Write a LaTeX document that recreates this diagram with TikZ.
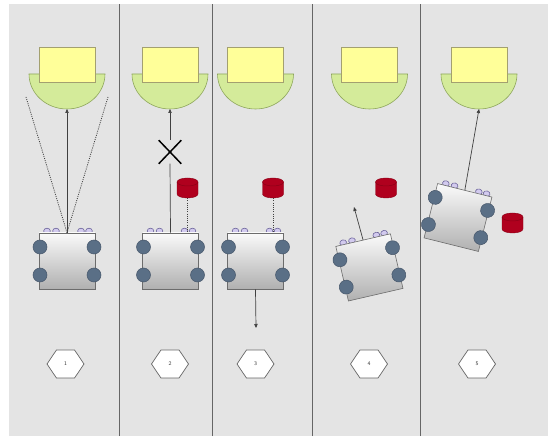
\documentclass[tikz,border=0pt]{standalone}
\usetikzlibrary{arrows.meta,shapes.geometric,shapes.misc,shapes.symbols}

\definecolor{panelgray}{HTML}{E4E4E4}
\definecolor{rulegray}{HTML}{666666}
\definecolor{goalyellow}{HTML}{FFFF99}
\definecolor{goaledge}{HTML}{A3A070}
\definecolor{dockgreen}{HTML}{D4EB9A}
\definecolor{dockedge}{HTML}{8EA65C}
\definecolor{wheelblue}{HTML}{5A6F86}
\definecolor{wheeledge}{HTML}{46566A}
\definecolor{sensorfill}{HTML}{D2CAEE}
\definecolor{sensoredge}{HTML}{6E669C}
\definecolor{obstred}{HTML}{B0001E}
\definecolor{obstedge}{HTML}{8A0016}

\tikzset{
  divider/.style={draw=rulegray, line width=1pt},
  goal/.style={rectangle, draw=goaledge, fill=goalyellow, line width=0.6pt,
    minimum width=56pt, minimum height=35pt, inner sep=0pt},
  dock/.style={draw=dockedge, fill=dockgreen, line width=0.6pt},
  robotbody/.style={rectangle, draw=gray!85!black, line width=0.6pt,
    top color=white!96!gray, bottom color=gray!62, minimum width=56pt,
    minimum height=56pt, inner sep=0pt},
  wheel/.style={draw=wheeledge, fill=wheelblue, line width=0.5pt},
  sensor/.style={draw=sensoredge, fill=sensorfill, line width=0.6pt},
  barrelbox/.style={rectangle, minimum width=21pt, minimum height=20pt, inner sep=0pt},
  barrelbody/.style={fill=obstred, draw=obstedge, line width=0.4pt},
  barreltop/.style={draw=obstedge, line width=0.5pt},
  marker/.style={signal, signal to=east and west, signal pointer angle=112,
    draw=gray!80!black, fill=white, line width=0.7pt, minimum width=37pt,
    minimum height=28pt, inner sep=0pt, text=black!80,
    font=\sffamily\fontsize{5.5}{6}\selectfont},
  plainline/.style={draw=black!75, line width=0.7pt},
  motion/.style={plainline, -{Triangle[length=4pt,width=3.4pt]}},
  sight/.style={draw=black!75, line width=0.8pt, dash pattern=on 1pt off 1.2pt},
  blocked/.style={cross out, draw=black, line width=1.5pt,
    minimum width=21pt, minimum height=22pt, inner sep=0pt},
  station/.pic={
    \draw[dock] (-38,0) arc[start angle=180, end angle=360,
      x radius=38pt, y radius=35pt] -- cycle;
    \coordinate (-base) at (0,-35);
    \node[goal] (-goal) at (0,9.5) {};
  },
  robot/.pic={
    \foreach \sx in {-20,-11,14,22}
      \draw[sensor] (\sx,30) ellipse [x radius=3.4pt, y radius=2.8pt];
    \node[robotbody] (-body) at (0,0) {};
    \foreach \wx/\wy in {-27/14, 27/14, -27/-14, 27/-14}
      \draw[wheel] (\wx,\wy) circle [radius=7pt];
  },
  barrel/.pic={
    \node[barrelbox] (-box) at (0,0) {};
    \draw[barrelbody] (-10.5,6) -- (-10.5,-6)
      arc[start angle=180, end angle=360, x radius=10.5pt, y radius=4pt]
      -- (10.5,6)
      arc[start angle=0, end angle=180, x radius=10.5pt, y radius=4pt] -- cycle;
    \draw[barreltop] (-10.5,6)
      arc[start angle=180, end angle=360, x radius=10.5pt, y radius=4pt];
  }
}

\begin{document}
\begin{tikzpicture}[x=1pt, y=1pt]
  \useasboundingbox (0,0) rectangle (548,436);
  \fill[panelgray] (9,0) rectangle (548,432);

  % panel separators
  \foreach \px in {119.5,212.5,312.5,420}
    \draw[divider] (\px,0) -- (\px,432);

  % docking stations
  \pic (st1) at (67,362) {station};
  \pic (st2) at (170,362) {station};
  \pic (st3) at (255.5,362) {station};
  \pic (st4) at (369.5,362) {station};
  \pic (st5) at (479,362) {station};

  % robots
  \pic (r1) at (67,175) {robot};
  \pic (r2) at (170.5,175) {robot};
  \pic (r3) at (255.5,175) {robot};
  \begin{scope}[shift={(369.4,168.6)}, rotate=13, transform shape]
    \pic (r4) at (0,0) {robot};
  \end{scope}
  \begin{scope}[shift={(458,218.5)}, rotate=-14, transform shape]
    \pic (r5) at (0,0) {robot};
  \end{scope}

  % obstacles
  \pic (c2) at (187.5,248) {barrel};
  \pic (c3) at (273,248) {barrel};
  \pic (c4) at (386,248) {barrel};
  \pic (c5) at (512.5,213) {barrel};

  % step 1: field of view towards the dock
  \coordinate (v1l) at (26,339);
  \coordinate (v1r) at (108,339);
  \draw[sight] (r1-body.north) -- (v1l);
  \draw[sight] (r1-body.north) -- (v1r);
  \draw[motion] (r1-body.north) -- (st1-base);

  % step 2: path blocked, obstacle detected
  \node[blocked, fill=panelgray] (x2) at (170,284) {};
  \draw[plainline] (r2-body.north) -- (x2.south);
  \draw[motion] (x2.north) -- (st2-base);
  \draw[sight] (c2-box.south) -- (c2-box.south |- r2-body.north);

  % step 3: back off
  \coordinate (e3) at (256,108);
  \draw[sight] (c3-box.south) -- (c3-box.south |- r3-body.north);
  \draw[motion] (r3-body.south) -- (e3);

  % step 4: turn away from the obstacle
  \coordinate (e4) at (354,229);
  \draw[motion] (r4-body.north) -- (e4);

  % step 5: dock again
  \draw[motion] (r5-body.north) -- (st5-base);

  % step markers
  \node[marker] (m1) at (65.5,72) {1};
  \node[marker] (m2) at (170,72) {2};
  \node[marker] (m3) at (255.5,72) {3};
  \node[marker] (m4) at (369,72) {4};
  \node[marker] (m5) at (477,72) {5};
\end{tikzpicture}
\end{document}
